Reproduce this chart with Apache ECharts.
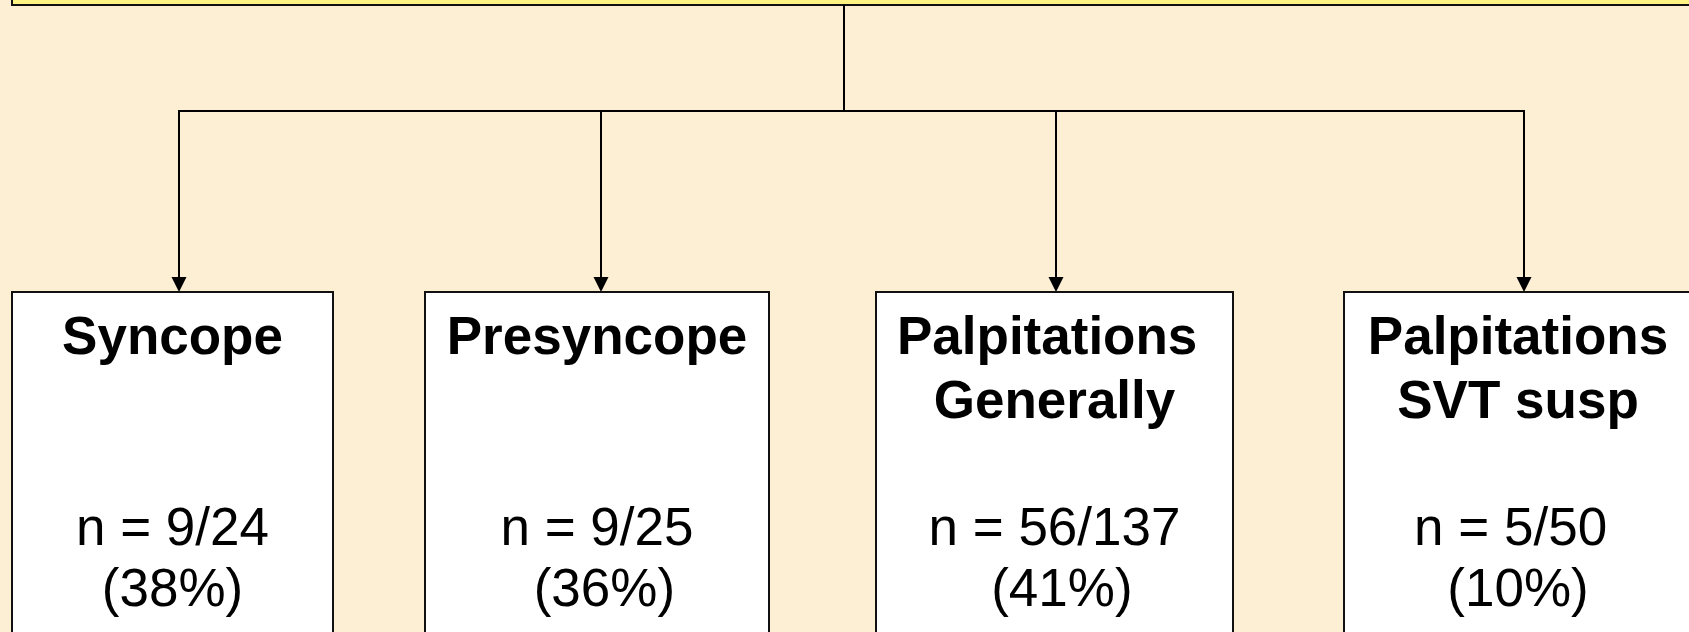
<!DOCTYPE html>
<html>
<head>
<meta charset="utf-8">
<script src="https://cdn.jsdelivr.net/npm/echarts@6/dist/echarts.min.js"></script>
<style>
  html, body { margin: 0; padding: 0; background: #FCEFD3; }
  #chart { width: 1689px; height: 632px; }
</style>
</head>
<body>
<div id="chart"></div>
<script>
// ---- data ----
const categories = ['Syncope', 'Presyncope', 'Palpitations \nGenerally', 'Palpitations\nSVT susp'];
const positives = [9, 9, 56, 5];
const totals = [24, 25, 137, 50];
const percents = [38, 36, 41, 10];
const countSuffix = ['', '', '', ' '];
const percentPrefix = ['', ' ', ' ', ''];

// ---- layout (diagram units on hidden value axes) ----
const boxLeft = [12, 425, 876, 1344];
const boxRight = [333, 769, 1233, 1692];
const arrowX = [179, 601, 1056, 1524];
const boxTop = 292;
const boxBottom = 720;
const busY = 111;
const trunkX = 844;
const headBottom = 5;
const titleTop = 307;
const countTop = 500;

const FONT = "'Liberation Sans', Arial, Helvetica, sans-serif";

const chart = echarts.init(document.getElementById('chart'), null, { renderer: 'canvas' });

const boxData = categories.map((c, i) => [i]);
const arrowData = categories.map((c, i) => [i]);

const option = {
  backgroundColor: '#FCEFD3',
  animation: false,
  grid: { left: 0, right: 0, top: 0, bottom: 0 },
  xAxis: { type: 'value', min: 0, max: 1689, show: false },
  yAxis: { type: 'value', min: 0, max: 632, inverse: true, show: false },
  series: [
    {
      // top (header) box, mostly outside the view
      type: 'custom',
      clip: false,
      data: [[0]],
      renderItem: function (params, api) {
        const p1 = api.coord([12, -100]);
        const p2 = api.coord([1700, headBottom]);
        return {
          type: 'rect',
          shape: { x: p1[0], y: p1[1], width: p2[0] - p1[0], height: p2[1] - p1[1] },
          style: { fill: '#FFF383', stroke: '#111', lineWidth: 2 }
        };
      }
    },
    {
      // connectors: trunk + bus
      type: 'custom',
      clip: false,
      data: [[0]],
      renderItem: function (params, api) {
        const t1 = api.coord([trunkX, headBottom]);
        const t2 = api.coord([trunkX, busY]);
        const b1 = api.coord([arrowX[0], busY]);
        const b2 = api.coord([arrowX[arrowX.length - 1], busY]);
        return {
          type: 'group',
          children: [
            { type: 'line', shape: { x1: t1[0], y1: t1[1], x2: t2[0], y2: t2[1] }, style: { stroke: '#000', lineWidth: 2 } },
            { type: 'line', shape: { x1: b1[0] - 1, y1: b1[1], x2: b2[0] + 1, y2: b2[1] }, style: { stroke: '#000', lineWidth: 2 } }
          ]
        };
      }
    },
    {
      // drop lines with arrows
      type: 'custom',
      clip: false,
      data: arrowData,
      renderItem: function (params, api) {
        const i = api.value(0);
        const top = api.coord([arrowX[i], busY]);
        const tip = api.coord([arrowX[i], boxTop]);
        const ah = 15, aw = 7.5;
        return {
          type: 'group',
          children: [
            { type: 'line', shape: { x1: top[0], y1: top[1], x2: tip[0], y2: tip[1] - ah + 1 }, style: { stroke: '#000', lineWidth: 2 } },
            { type: 'polygon', shape: { points: [[tip[0] - aw, tip[1] - ah], [tip[0] + aw, tip[1] - ah], [tip[0], tip[1]]] }, style: { fill: '#000' } }
          ]
        };
      }
    },
    {
      // category boxes
      type: 'custom',
      clip: false,
      data: boxData,
      renderItem: function (params, api) {
        const i = api.value(0);
        const p1 = api.coord([boxLeft[i], boxTop]);
        const p2 = api.coord([boxRight[i], boxBottom]);
        const cx = (p1[0] + p2[0]) / 2;
        const ty = api.coord([0, titleTop])[1];
        const cy = api.coord([0, countTop])[1];
        return {
          type: 'group',
          children: [
            {
              type: 'rect',
              shape: { x: p1[0], y: p1[1], width: p2[0] - p1[0], height: p2[1] - p1[1] },
              style: { fill: '#FFFFFF', stroke: '#111', lineWidth: 2 }
            },
            {
              type: 'text',
              x: cx, y: ty,
              style: {
                text: categories[i],
                font: 'bold 53px ' + FONT,
                fill: '#000',
                align: 'center',
                verticalAlign: 'top',
                lineHeight: 64
              }
            },
            {
              type: 'text',
              x: cx, y: cy,
              style: {
                text: 'n = ' + positives[i] + '/' + totals[i] + countSuffix[i] + '\n' + percentPrefix[i] + '(' + percents[i] + '%)',
                font: '53px ' + FONT,
                fill: '#000',
                align: 'center',
                verticalAlign: 'top',
                lineHeight: 61
              }
            }
          ]
        };
      }
    }
  ]
};

chart.setOption(option);
</script>
</body>
</html>
